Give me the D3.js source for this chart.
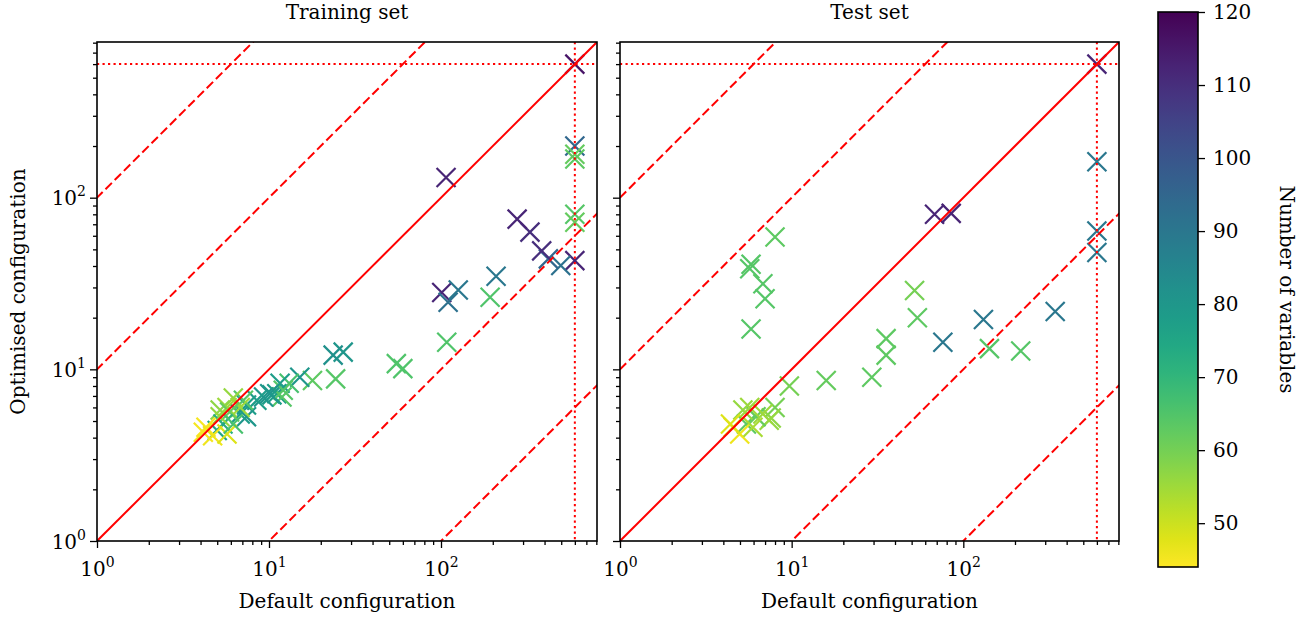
<!DOCTYPE html>
<html>
<head>
<meta charset="utf-8">
<script src="https://cdn.jsdelivr.net/npm/d3@7"></script>
<style>
  body { margin: 0; background: #fff; }
  text { font-family: "DejaVu Serif", "Liberation Serif", serif; fill: #000; }
</style>
</head>
<body>
<svg id="chart" width="1310" height="619" viewBox="0 0 1310 619"></svg>
<script>
// training set: [default time, optimised time, number of variables]
const train_default = [600, 600, 600, 600, 600, 600, 600, 497, 421, 385, 329, 277, 107, 101, 110, 126, 209, 193, 108, 55, 60, 27, 23.6, 24.4, 17.9, 15.1, 13.1, 11.6, 11.1, 11.9, 10.4, 9.3, 8.5, 7.4, 7.4, 6.8, 12.1, 10.1, 7.1, 6.2, 5.7, 6.8, 5.2, 5.9, 5.4, 5.0, 5.2, 4.3, 4.7, 4.15, 5.7, 6.2];
const train_optim   = [600, 200, 179, 168, 80, 72, 43, 40.3, 44, 49, 63, 75, 131, 28, 24.6, 29, 34.9, 26.3, 14.4, 10.8, 10.1, 12.6, 12.1, 8.8, 8.6, 9.0, 8.3, 8.3, 7.2, 6.9, 7.1, 6.9, 6.6, 6.2, 5.3, 5.5, 7.55, 7.2, 6.6, 6.8, 6.0, 6.0, 5.8, 5.65, 4.8, 4.4, 5.3, 4.6, 4.1, 4.3, 4.2, 4.8];
const train_vars    = [116, 95, 62, 63, 64, 62, 112, 92, 95, 110, 110, 112, 112, 112, 92, 90, 90, 65, 65, 65, 65, 80, 82, 64, 63, 80, 66, 78, 78, 64, 78, 80, 78, 78, 80, 78, 64, 80, 64, 56, 55, 55, 57, 62, 72, 75, 56, 45, 46, 45, 48, 66];

// test set
const test_default = [600, 600, 600, 600, 68, 85, 8.0, 5.8, 5.7, 6.8, 7.0, 5.8, 52, 54, 35.5, 35.5, 29.3, 15.9, 9.7, 76, 131, 343, 142, 216, 8.0, 7.6, 7.4, 5.45, 6.2, 5.2, 5.7, 6.8, 4.56, 4.98, 4.4, 5.95];
const test_optim   = [600, 162, 64, 48, 80, 81, 59, 41, 38.5, 31.5, 25.8, 17.2, 28.8, 20, 15.1, 12.1, 9.0, 8.6, 8.0, 14.4, 19.5, 21.7, 13.2, 12.8, 6.0, 5.2, 5.05, 4.8, 5.3, 5.8, 6.0, 5.5, 4.6, 4.2, 4.8, 4.6];
const test_vars    = [112, 90, 90, 90, 112, 112, 63, 64, 64, 64, 64, 64, 60, 63, 63, 63, 63, 62, 60, 90, 90, 90, 64, 64, 60, 57, 56, 63, 62, 56, 55, 55, 47, 46, 48, 54];

const time_limit = 600;
const ratio_lines = [1, 10, 100, 0.1, 0.01];
const colour_ticks = [50, 60, 70, 80, 90, 100, 110, 120];
const colour_range = [44, 120];

const svg = d3.select("#chart");
const top_y = 42, bottom_y = 541;
const axis_max = Math.pow(10, 500 / 172);
const fs = 20;

const colour = d3.scaleSequential()
  .domain([colour_range[1], colour_range[0]])
  .interpolator(d3.interpolateViridis);

const defs = svg.append("defs");

function superscript(sel, p) {
  sel.text("10").append("tspan").attr("dy", -9).attr("font-size", 14).text(p);
}

function panel(left, right, title, xs, ys, vs, show_y_labels, id) {
  const x = d3.scaleLog().domain([1, axis_max]).range([left, right]);
  const y = d3.scaleLog().domain([1, axis_max]).range([bottom_y, top_y]);
  const g = svg.append("g");

  defs.append("clipPath").attr("id", id)
    .append("rect")
    .attr("x", left).attr("y", top_y)
    .attr("width", right - left).attr("height", bottom_y - top_y);

  const pts = xs.map((d, i) => ({ x: d, y: ys[i], v: vs[i] }));

  g.append("g")
    .selectAll("path")
    .data(pts)
    .enter()
    .append("path")
    .attr("d", "M-9.5,-9.5L9.5,9.5M-9.5,9.5L9.5,-9.5")
    .attr("transform", d => `translate(${x(d.x)},${y(d.y)})`)
    .attr("stroke", d => colour(d.v))
    .attr("stroke-width", 2.2)
    .attr("fill", "none");

  const lines = g.append("g").attr("clip-path", `url(#${id})`);
  lines.selectAll("line.ratio")
    .data(ratio_lines)
    .enter()
    .append("line")
    .attr("x1", x(0.001)).attr("x2", x(10000))
    .attr("y1", r => y(0.001 * r)).attr("y2", r => y(10000 * r))
    .attr("stroke", "#ff0000")
    .attr("stroke-width", 2)
    .attr("stroke-dasharray", r => r === 1 ? null : "9,4");

  lines.append("line")
    .attr("x1", x(time_limit)).attr("x2", x(time_limit))
    .attr("y1", top_y).attr("y2", bottom_y)
    .attr("stroke", "#ff0000").attr("stroke-width", 2)
    .attr("stroke-dasharray", "2.2,3.3");
  lines.append("line")
    .attr("x1", left).attr("x2", right)
    .attr("y1", y(time_limit)).attr("y2", y(time_limit))
    .attr("stroke", "#ff0000").attr("stroke-width", 2)
    .attr("stroke-dasharray", "2.2,3.3");

  const major = [1, 10, 100];
  const minor = d3.range(0, 3).flatMap(k => d3.range(2, 10).map(m => m * Math.pow(10, k)))
    .filter(v => v < axis_max);

  const xa = g.append("g").attr("transform", `translate(0,${bottom_y})`)
    .call(d3.axisBottom(x).tickValues(minor).tickSize(4).tickFormat(""));
  xa.select(".domain").remove();
  const xm = g.append("g").attr("transform", `translate(0,${bottom_y})`)
    .call(d3.axisBottom(x).tickValues(major).tickSize(7).tickFormat(""));
  xm.select(".domain").remove();
  xm.selectAll(".tick").append("text")
    .attr("y", 35).attr("text-anchor", "middle").attr("font-size", fs)
    .each(function (d) { superscript(d3.select(this), Math.round(Math.log10(d))); });

  const ya = g.append("g").attr("transform", `translate(${left},0)`)
    .call(d3.axisLeft(y).tickValues(minor).tickSize(4).tickFormat(""));
  ya.select(".domain").remove();
  const ym = g.append("g").attr("transform", `translate(${left},0)`)
    .call(d3.axisLeft(y).tickValues(major).tickSize(7).tickFormat(""));
  ym.select(".domain").remove();
  if (show_y_labels) {
    ym.selectAll(".tick").append("text")
      .attr("x", -11).attr("y", 7).attr("text-anchor", "end").attr("font-size", fs)
      .each(function (d) { superscript(d3.select(this), Math.round(Math.log10(d))); });
  }
  g.selectAll(".tick line").attr("stroke", "#000").attr("stroke-width", 1.3);

  g.append("rect")
    .attr("x", left).attr("y", top_y)
    .attr("width", right - left).attr("height", bottom_y - top_y)
    .attr("fill", "none").attr("stroke", "#000").attr("stroke-width", 1.6);

  g.append("text")
    .attr("x", (left + right) / 2).attr("y", 19)
    .attr("text-anchor", "middle").attr("font-size", fs).text(title);
  g.append("text")
    .attr("x", (left + right) / 2).attr("y", 608)
    .attr("text-anchor", "middle").attr("font-size", fs).text("Default configuration");
}

panel(97, 597, "Training set", train_default, train_optim, train_vars, true, "clipA");
panel(620, 1119, "Test set", test_default, test_optim, test_vars, false, "clipB");

svg.append("text")
  .attr("transform", `translate(25,${(top_y + bottom_y) / 2}) rotate(-90)`)
  .attr("text-anchor", "middle").attr("font-size", fs)
  .text("Optimised configuration");

// colour bar
const cb_left = 1158, cb_width = 40, cb_top = 12, cb_bottom = 567;
const cy = d3.scaleLinear().domain(colour_range).range([cb_bottom, cb_top]);
const grad = defs.append("linearGradient").attr("id", "cbgrad")
  .attr("x1", 0).attr("y1", 1).attr("x2", 0).attr("y2", 0);
d3.range(0, 1.0001, 0.05).forEach(t => {
  grad.append("stop").attr("offset", t)
    .attr("stop-color", colour(colour_range[0] + t * (colour_range[1] - colour_range[0])));
});
svg.append("rect")
  .attr("x", cb_left).attr("y", cb_top)
  .attr("width", cb_width).attr("height", cb_bottom - cb_top)
  .attr("fill", "url(#cbgrad)")
  .attr("stroke", "#000").attr("stroke-width", 1.6);

const cbax = svg.append("g").attr("transform", `translate(${cb_left + cb_width},0)`)
  .call(d3.axisRight(cy).tickValues(colour_ticks).tickSize(7).tickPadding(8));
cbax.select(".domain").remove();
cbax.selectAll(".tick line").attr("stroke", "#000").attr("stroke-width", 1.3);
cbax.selectAll(".tick text")
  .attr("font-size", fs).attr("font-family", "DejaVu Serif, serif").attr("fill", "#000");

svg.append("text")
  .attr("transform", `translate(1280,${(cb_top + cb_bottom) / 2}) rotate(90)`)
  .attr("text-anchor", "middle").attr("font-size", fs)
  .text("Number of variables");
</script>
</body>
</html>
